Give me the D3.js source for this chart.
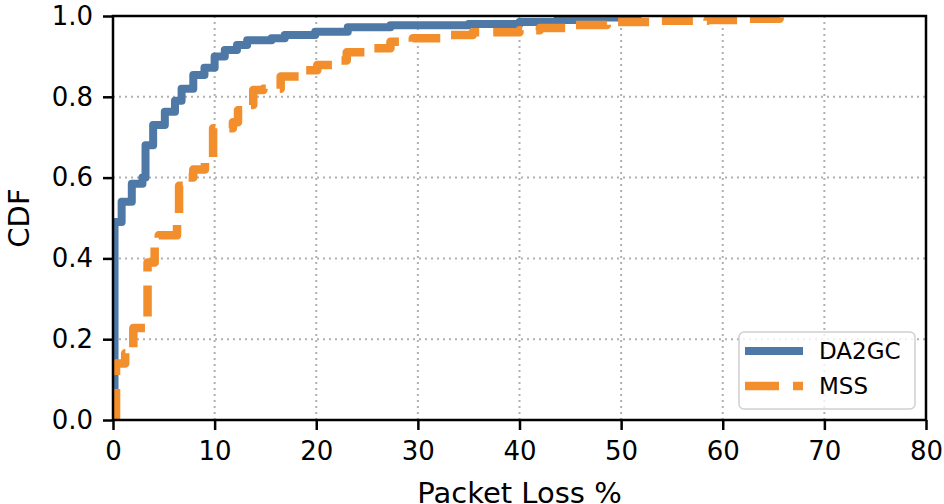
<!DOCTYPE html>
<html>
<head>
<meta charset="utf-8">
<script src="https://cdn.jsdelivr.net/npm/d3@7"></script>
<style>
  html, body { margin: 0; padding: 0; background: #fff; }
  svg { display: block; font-family: "DejaVu Sans", sans-serif; }
</style>
</head>
<body>
<svg id="chart" width="944" height="504"></svg>
<script>
// ---- data ----
const xTicks = [0, 10, 20, 30, 40, 50, 60, 70, 80];
const yTicks = [0.0, 0.2, 0.4, 0.6, 0.8, 1.0];
const seriesNames = ["DA2GC", "MSS"];

// Empirical CDF step points: loss value where CDF jumps, CDF after jump
const da2gcLoss = [0.15, 0.15, 0.85, 1.85, 2.9, 3.2, 3.95, 5.1, 6.1, 6.75, 7.9, 9.0, 10.0, 11.0, 12.2, 13.2, 15.6, 16.9, 19.9, 23.1, 27.3, 35, 40, 43.7, 47.6, 50.6, 52];
const da2gcCdf  = [0.0, 0.49, 0.54, 0.585, 0.60, 0.68, 0.73, 0.763, 0.79, 0.82, 0.854, 0.872, 0.90, 0.916, 0.928, 0.94, 0.945, 0.953, 0.961, 0.972, 0.977, 0.98, 0.985, 0.99, 0.996, 1.0, 1.0];

const mssLoss = [0.3, 0.3, 1.2, 2.0, 3.4, 4.1, 4.5, 6.3, 6.5, 7.1, 7.9, 9.05, 9.85, 11.8, 12.3, 13.0, 13.8, 14.8, 16.5, 18.7, 20.1, 22.2, 23.0, 25.6, 27.3, 29.5, 33.2, 35.4, 40, 42, 45.3, 48.6, 53.5, 58.5, 61.7, 65.6, 66.3];
const mssCdf  = [0.0, 0.14, 0.165, 0.228, 0.39, 0.43, 0.457, 0.49, 0.58, 0.60, 0.62, 0.648, 0.722, 0.737, 0.767, 0.78, 0.817, 0.82, 0.85, 0.866, 0.879, 0.89, 0.91, 0.92, 0.936, 0.945, 0.953, 0.96, 0.965, 0.97, 0.978, 0.985, 0.988, 0.99, 0.993, 0.997, 1.0];

// ---- layout ----
const svg = d3.select("#chart");
const L = 113, R = 926, T = 16, B = 420;
const x = d3.scaleLinear().domain([0, 80]).range([L, R]);
const y = d3.scaleLinear().domain([0, 1]).range([B, T]);

const colors = { DA2GC: "#4e79a7", MSS: "#f28e2b" };

// clip
svg.append("defs").append("clipPath").attr("id", "plotclip")
  .append("rect").attr("x", L).attr("y", T).attr("width", R - L).attr("height", B - T);

// grid
const grid = svg.append("g");
grid.selectAll(".gx").data(xTicks).enter().append("line")
  .attr("x1", d => x(d)).attr("x2", d => x(d)).attr("y1", T).attr("y2", B)
  .attr("stroke", "#b0b0b0").attr("stroke-width", 2).attr("stroke-dasharray", "2,4");
grid.selectAll(".gy").data(yTicks).enter().append("line")
  .attr("y1", d => y(d)).attr("y2", d => y(d)).attr("x1", L).attr("x2", R)
  .attr("stroke", "#b0b0b0").attr("stroke-width", 2).attr("stroke-dasharray", "2,4");

// lines
const line = d3.line().x(d => x(d[0])).y(d => y(d[1])).curve(d3.curveStepAfter);
const plot = svg.append("g").attr("clip-path", "url(#plotclip)");
plot.append("path")
  .datum(da2gcLoss.map((v, i) => [v, da2gcCdf[i]]))
  .attr("d", line).attr("fill", "none")
  .attr("stroke", colors.DA2GC).attr("stroke-width", 8).attr("stroke-linejoin", "round");
plot.append("path")
  .datum(mssLoss.map((v, i) => [v, mssCdf[i]]))
  .attr("d", line).attr("fill", "none")
  .attr("stroke", colors.MSS).attr("stroke-width", 8.5)
  .attr("stroke-dasharray", "31,14").attr("stroke-linejoin", "round");

// axes
const xAxis = d3.axisBottom(x).tickValues(xTicks).tickFormat(d3.format("d")).tickSize(10).tickPadding(10);
const yAxis = d3.axisLeft(y).tickValues(yTicks).tickFormat(d3.format(".1f")).tickSize(10).tickPadding(10);
const gx = svg.append("g").attr("transform", `translate(0,${B})`).call(xAxis);
const gy = svg.append("g").attr("transform", `translate(${L},0)`).call(yAxis);
[gx, gy].forEach(g => {
  g.select(".domain").remove();
  g.selectAll(".tick line").attr("stroke", "#000").attr("stroke-width", 2.5);
  g.selectAll(".tick text").attr("font-family", "DejaVu Sans").attr("font-size", 26).attr("fill", "#000");
});
gx.selectAll(".tick text").attr("dy", "0.75em");

// frame
svg.append("rect").attr("x", L).attr("y", T).attr("width", R - L).attr("height", B - T)
  .attr("fill", "none").attr("stroke", "#000").attr("stroke-width", 2.5);

// axis labels
svg.append("text").attr("x", (L + R) / 2).attr("y", 503).attr("text-anchor", "middle")
  .attr("font-size", 29).attr("fill", "#000").text("Packet Loss %");
svg.append("text").attr("transform", `translate(29,${(T + B) / 2}) rotate(-90)`)
  .attr("text-anchor", "middle").attr("font-size", 29).attr("fill", "#000").text("CDF");

// legend
const lg = svg.append("g");
lg.append("rect").attr("x", 739).attr("y", 332).attr("width", 176).attr("height", 77)
  .attr("rx", 5).attr("fill", "#fff").attr("fill-opacity", 0.8)
  .attr("stroke", "#d0d0d0").attr("stroke-width", 1.5);
const entryY = d => 351 + seriesNames.indexOf(d) * 35;
lg.selectAll(".lline").data(seriesNames).enter().append("line")
  .attr("x1", 745).attr("x2", 803).attr("y1", entryY).attr("y2", entryY)
  .attr("stroke", d => colors[d]).attr("stroke-width", d => d === "MSS" ? 8.5 : 8)
  .attr("stroke-dasharray", d => d === "MSS" ? "34,14" : null);
lg.selectAll(".ltext").data(seriesNames).enter().append("text")
  .attr("x", 819).attr("y", entryY).attr("dy", "0.36em")
  .attr("font-size", 23).attr("fill", "#000").text(d => d);
</script>
</body>
</html>
